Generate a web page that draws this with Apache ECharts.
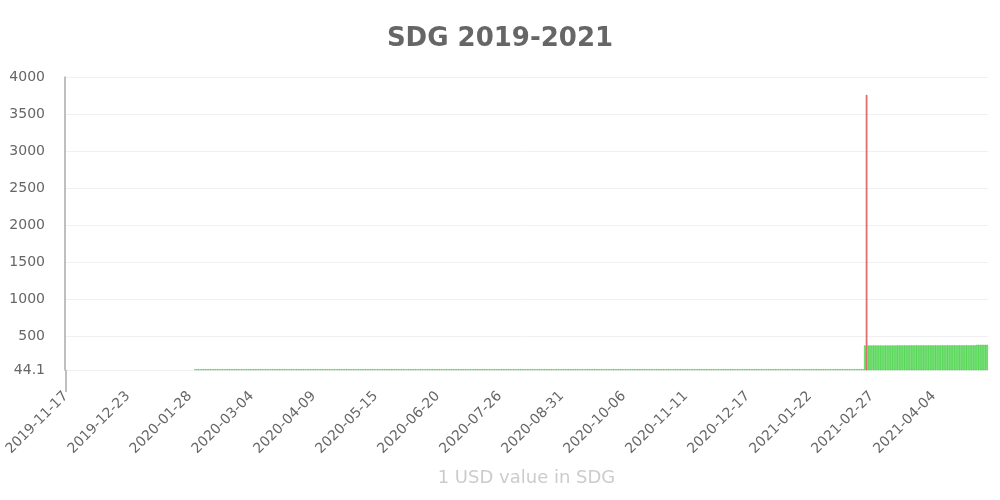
<!DOCTYPE html>
<html>
<head>
<meta charset="utf-8">
<script src="https://cdn.jsdelivr.net/npm/echarts@6/dist/echarts.min.js"></script>
<style>
html, body { margin: 0; padding: 0; background: #fff; }
#chart { width: 1000px; height: 500px; }
</style>
</head>
<body>
<div id="chart"></div>
<script>
// daily rate, first day of the series
var startDate = '2019-11-17';

// 2019-11-17 .. 2020-01-30
var earlyValues = [
    44.1, 45, 45, 45, 45, 45, 45, 45, 45, 45, 45, 45, 45, 45, 45,
    45, 45, 45, 45, 45, 45, 45, 45, 45, 45, 45, 45, 45, 45, 45,
    45, 45, 45, 45, 45, 45, 45, 45, 45, 45, 45, 45, 45, 45, 45,
    45, 45, 45, 45, 45, 45, 45, 45, 45, 45, 45, 45, 45, 45, 45,
    45, 45, 45, 45, 45, 45, 45, 45, 45, 45, 45, 45, 45, 45, 45
];

// 2020-01-31 .. 2021-02-22
var pegValues = [
    55, 55, 55, 55, 55, 55, 55, 55, 55, 55, 55, 55, 55, 55, 55, 55, 55, 55, 55, 55,
    55, 55, 55, 55, 55, 55, 55, 55, 55, 55, 55, 55, 55, 55, 55, 55, 55, 55, 55, 55,
    55, 55, 55, 55, 55, 55, 55, 55, 55, 55, 55, 55, 55, 55, 55, 55, 55, 55, 55, 55,
    55, 55, 55, 55, 55, 55, 55, 55, 55, 55, 55, 55, 55, 55, 55, 55, 55, 55, 55, 55,
    55, 55, 55, 55, 55, 55, 55, 55, 55, 55, 55, 55, 55, 55, 55, 55, 55, 55, 55, 55,
    55, 55, 55, 55, 55, 55, 55, 55, 55, 55, 55, 55, 55, 55, 55, 55, 55, 55, 55, 55,
    55, 55, 55, 55, 55, 55, 55, 55, 55, 55, 55, 55, 55, 55, 55, 55, 55, 55, 55, 55,
    55, 55, 55, 55, 55, 55, 55, 55, 55, 55, 55, 55, 55, 55, 55, 55, 55, 55, 55, 55,
    55, 55, 55, 55, 55, 55, 55, 55, 55, 55, 55, 55, 55, 55, 55, 55, 55, 55, 55, 55,
    55, 55, 55, 55, 55, 55, 55, 55, 55, 55, 55, 55, 55, 55, 55, 55, 55, 55, 55, 55,
    55, 55, 55, 55, 55, 55, 55, 55, 55, 55, 55, 55, 55, 55, 55, 55, 55, 55, 55, 55,
    55, 55, 55, 55, 55, 55, 55, 55, 55, 55, 55, 55, 55, 55, 55, 55, 55, 55, 55, 55,
    55, 55, 55, 55, 55, 55, 55, 55, 55, 55, 55, 55, 55, 55, 55, 55, 55, 55, 55, 55,
    55, 55, 55, 55, 55, 55, 55, 55, 55, 55, 55, 55, 55, 55, 55, 55, 55, 55, 55, 55,
    55, 55, 55, 55, 55, 55, 55, 55, 55, 55, 55, 55, 55, 55, 55, 55, 55, 55, 55, 55,
    55, 55, 55, 55, 55, 55, 55, 55, 55, 55, 55, 55, 55, 55, 55, 55, 55, 55, 55, 55,
    55, 55, 55, 55, 55, 55, 55, 55, 55, 55, 55, 55, 55, 55, 55, 55, 55, 55, 55, 55,
    55, 55, 55, 55, 55, 55, 55, 55, 55, 55, 55, 55, 55, 55, 55, 55, 55, 55, 55, 55,
    55, 55, 55, 55, 55, 55, 55, 55, 55, 55, 55, 55, 55, 55, 55, 55, 55, 55, 55, 55,
    55, 55, 55, 55, 55, 55, 55, 55, 55
];

// 2021-02-23 .. 2021-05-05 (after the float)
var floatValues = [
    375.8, 3758,
    376.0, 376.0, 376.1, 376.1, 376.2, 376.2, 376.2, 376.3, 376.3, 376.3, 376.4, 376.4, 376.4, 376.5, 376.5, 376.5, 376.6, 376.6, 376.6, 376.7, 376.7,
    376.7, 376.8, 376.8, 376.8, 376.9, 376.9, 376.9, 377.0, 377.0, 377.0, 377.1, 377.1, 377.1, 377.2, 377.2, 377.2, 377.3, 377.3, 377.3, 377.4, 377.4,
    377.4, 377.5, 377.5, 377.5, 377.6, 377.6, 377.6, 377.7, 377.7, 377.7, 377.8, 377.8, 377.8, 377.9, 377.9, 377.9, 378.0, 378.0, 378.0, 378.1, 378.1,
    384.9, 385.1, 385.2, 385.2, 385.3, 385.3, 385.4
];

var values = earlyValues.concat(pegValues, floatValues);

// one category per day
var dates = [];
var d = new Date(startDate + 'T00:00:00Z');
for (var i = 0; i < values.length; i++) {
    dates.push(d.toISOString().slice(0, 10));
    d.setUTCDate(d.getUTCDate() + 1);
}

var barData = values.map(function (v) {
    var fill = 'rgba(80,215,80,0.8)', line = '#33cc33';
    if (v > 1000) { fill = 'rgba(230,120,120,0.8)'; line = '#cc3333'; }
    else if (v < 50) { fill = '#eeeeee'; line = '#e6e6e6'; }
    return { value: v, itemStyle: { color: fill, borderColor: line, borderWidth: 0.5 } };
});

var chart = echarts.init(document.getElementById('chart'));
chart.setOption({
    animation: false,
    textStyle: { fontFamily: 'DejaVu Sans, sans-serif' },
    title: {
        text: 'SDG 2019-2021',
        left: 'center',
        top: 21,
        textStyle: { fontSize: 26, fontWeight: 'bold', color: '#666', fontFamily: 'DejaVu Sans' }
    },
    grid: { left: 65, right: 12, top: 77, bottom: 130 },
    xAxis: {
        type: 'category',
        data: dates,
        name: '1 USD value in SDG',
        nameLocation: 'middle',
        nameGap: 99,
        nameTextStyle: { fontSize: 18, color: '#ccc' },
        axisLine: { show: false },
        axisTick: {
            show: true,
            alignWithLabel: true,
            length: 22,
            interval: function (index) { return index === 0; },
            lineStyle: { color: '#aaa', width: 1.5 }
        },
        axisLabel: { interval: 35, rotate: 45, color: '#666', fontSize: 14, margin: 24 }
    },
    yAxis: {
        type: 'value',
        min: 'dataMin',
        max: 4000,
        splitNumber: 8,
        axisLine: { show: true, lineStyle: { color: '#aaa', width: 1.5 } },
        axisTick: { show: false },
        splitLine: { lineStyle: { color: '#f0f0f0' } },
        axisLabel: {
            color: '#666',
            fontSize: 14,
            margin: 20,
            formatter: function (v) { return String(v); }
        }
    },
    series: [{
        type: 'bar',
        data: barData,
        barCategoryGap: '10%'
    }]
});
</script>
</body>
</html>
